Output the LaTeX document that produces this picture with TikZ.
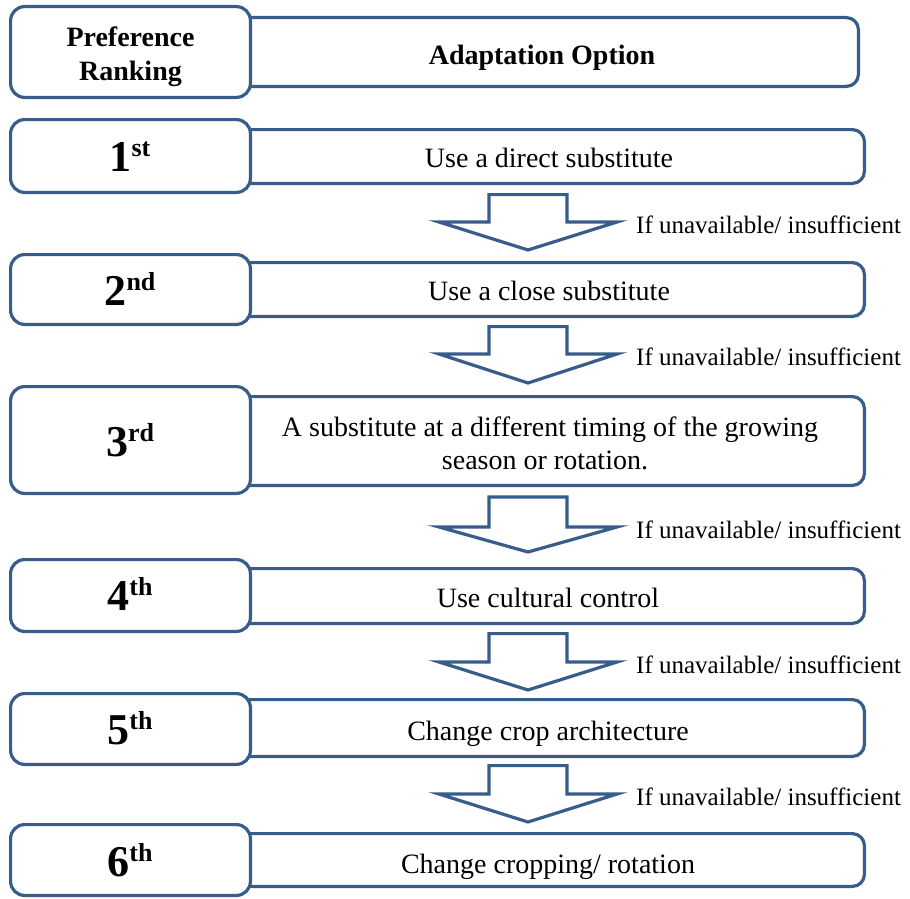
\documentclass[tikz,border=0pt]{standalone}
\usepackage{fontspec}
\setmainfont{Liberation Serif}
\definecolor{frame}{RGB}{56,93,138}
\tikzset{
  rankbox/.style={draw=frame, line width=3.2pt, rounded corners=14pt, fill=white,
                  minimum width=239.8pt, inner sep=0pt},
  optbox/.style={draw=frame, line width=3.2pt, rounded corners=12pt, fill=white,
                 inner sep=0pt},
  opttext/.style={font=\fontsize{28}{33}\selectfont, anchor=base, align=center, inner sep=0pt},
  headtext/.style={font=\fontsize{28}{34}\selectfont\bfseries, align=center, inner sep=0pt},
  ranktext/.style={font=\fontsize{44}{44}\selectfont\bfseries, anchor=base, inner sep=0pt},
  note/.style={font=\fontsize{25}{25}\selectfont, anchor=base west, inner sep=0pt},
  blockarrow/.style={draw=frame, line width=3.2pt, fill=white, line join=miter}
}
% ordinal number with raised suffix
\newcommand\rankord[2]{#1\raisebox{15pt}{\fontsize{26}{26}\selectfont #2}}
% hollow downward block arrow: top, shoulder, tip
\newcommand\downarrowblock[3]{%
  \draw[blockarrow] (489,#1) -- (489,#2) -- (439,#2) -- (528,#3) -- (617,#2) -- (567,#2) -- (567,#1) -- cycle;}

\begin{document}
\begin{tikzpicture}[x=1pt,y=-1pt]
\useasboundingbox (0,0) rectangle (910,899);

% option boxes (left ends tucked under the ranking boxes)
\node[optbox, minimum width=658.4pt, minimum height=68.8pt] (oh) at (529.2,52) {};
\node[optbox, minimum width=664.4pt, minimum height=53.8pt] (o1) at (532.2,156.5) {};
\node[optbox, minimum width=664.4pt, minimum height=53.8pt] (o2) at (532.2,289.5) {};
\node[optbox, minimum width=664.4pt, minimum height=88.8pt] (o3) at (532.2,441) {};
\node[optbox, minimum width=664.4pt, minimum height=54.8pt] (o4) at (532.2,596) {};
\node[optbox, minimum width=664.4pt, minimum height=56.8pt] (o5) at (532.2,728) {};
\node[optbox, minimum width=664.4pt, minimum height=52.8pt] (o6) at (532.2,860) {};

% ranking boxes
\node[rankbox, minimum height=90.8pt] (rh) at (130.5,52) {};
\node[rankbox, minimum height=72.8pt] (r1) at (130.5,156) {};
\node[rankbox, minimum height=69.8pt] (r2) at (130.5,289.5) {};
\node[rankbox, minimum height=106.8pt] (r3) at (130.5,440) {};
\node[rankbox, minimum height=71.8pt] (r4) at (130.5,595.5) {};
\node[rankbox, minimum height=70.8pt] (r5) at (130.5,729) {};
\node[rankbox, minimum height=70.8pt] (r6) at (130.5,860) {};

% block arrows between rows
\downarrowblock{194.6}{222}{250}
\downarrowblock{326.6}{354}{383}
\downarrowblock{497}{527}{552}
\downarrowblock{633.6}{662}{690}
\downarrowblock{765.6}{794}{822}

% header texts
\node[headtext] (th) at (130.5,57) {Preference\\Ranking};
\node[headtext, anchor=base] (tah) at (542,65) {Adaptation Option};

% ranks
\node[ranktext] (k1) at (130,171) {\rankord{1}{st}};
\node[ranktext] (k2) at (130,305) {\rankord{2}{nd}};
\node[ranktext] (k3) at (130,456) {\rankord{3}{rd}};
\node[ranktext] (k4) at (130,610) {\rankord{4}{th}};
\node[ranktext] (k5) at (130,744) {\rankord{5}{th}};
\node[ranktext] (k6) at (130,876) {\rankord{6}{th}};

% options
\node[opttext] (t1) at (549,167) {Use a direct substitute};
\node[opttext] (t2) at (549,300) {Use a close substitute};
\node[opttext] (t3a) at (550,436) {A substitute at a different timing of the growing};
\node[opttext] (t3b) at (545,469) {season or rotation.};
\node[opttext] (t4) at (548,607) {Use cultural control};
\node[opttext] (t5) at (548,740) {Change crop architecture};
\node[opttext] (t6) at (548,873) {Change cropping/ rotation};

% conditions beside the arrows
\node[note] (n1) at (636,233) {If unavailable/ insufficient};
\node[note] (n2) at (636,365) {If unavailable/ insufficient};
\node[note] (n3) at (636,538) {If unavailable/ insufficient};
\node[note] (n4) at (636,673) {If unavailable/ insufficient};
\node[note] (n5) at (636,805) {If unavailable/ insufficient};
\end{tikzpicture}
\end{document}
